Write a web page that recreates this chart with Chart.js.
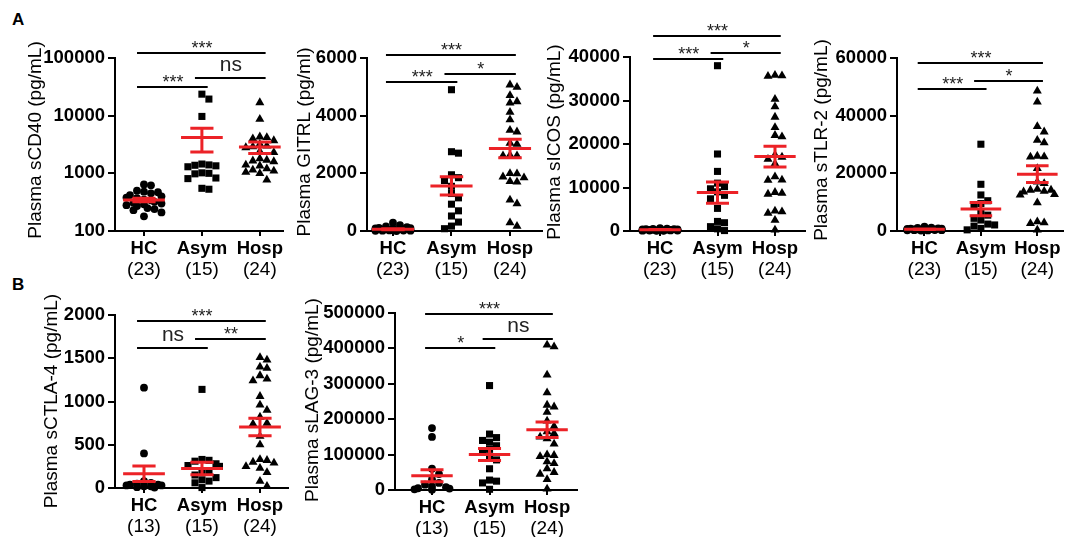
<!DOCTYPE html>
<html>
<head>
<meta charset="utf-8">
<script src="https://cdn.jsdelivr.net/npm/chart.js@4.4.1/dist/chart.umd.min.js"></script>
<style>
html,body{margin:0;padding:0;background:#fff;}
body{width:1068px;height:537px;position:relative;overflow:hidden;font-family:"Liberation Sans",Arial,sans-serif;}
canvas{position:absolute;}
.tag{position:absolute;font-weight:bold;font-size:17px;line-height:17px;color:#000;}
</style>
</head>
<body>
<div class="tag" style="left:12px;top:11px">A</div>
<div class="tag" style="left:12px;top:276px">B</div>
<script>
// ---- data ----
const groups = ['HC', 'Asym', 'Hosp'];
const countsA = [23, 15, 24];
const countsB = [13, 15, 24];

// sCD40 (log axis)
const cd40HC   = [640, 620, 500, 480, 470, 450, 420, 400, 380, 370, 350, 340, 320, 310, 300, 290, 280, 270, 250, 240, 230, 210, 180];
const cd40Asym = [23600, 19400, 9700, 1450, 1400, 1380, 1350, 1300, 1020, 1000, 980, 830, 810, 550, 530];
const cd40Hosp = [16900, 8700, 4300, 4200, 4000, 3700, 3200, 3000, 2900, 2800, 2400, 2300, 1800, 1700, 1650, 1600, 1400, 1350, 1200, 1150, 1100, 1050, 1000, 770];
const cd40Mean = [345, 4200, 2850];
const cd40Sem  = [25, 1850, 650];
const cd40Sig  = ['***', 'ns', '***'];
const cd40Ticks = [100, 1000, 10000, 100000];

// GITRL
const gitrlHC   = [290, 200, 160, 130, 110, 100, 90, 80, 70, 60, 55, 50, 45, 40, 35, 30, 25, 20, 15, 10, 10, 5, 0];
const gitrlAsym = [4900, 2750, 2700, 1950, 1850, 1750, 1550, 1300, 1150, 930, 700, 520, 310, 170, 80];
const gitrlHosp = [5070, 4990, 4700, 4490, 4440, 4120, 3860, 3500, 3440, 3050, 3010, 2630, 2610, 2610, 2000, 1990, 1880, 1850, 1720, 1700, 1080, 950, 290, 170];
const gitrlMean = [60, 1565, 2860];
const gitrlSem  = [15, 320, 320];
const gitrlSig  = ['***', '*', '***'];
const gitrlTicks = [0, 2000, 4000, 6000];

// sICOS
const icosHC   = [650, 550, 500, 450, 400, 380, 350, 320, 300, 280, 260, 240, 220, 200, 180, 160, 150, 130, 110, 100, 80, 60, 40];
const icosAsym = [38000, 17700, 13700, 11000, 10200, 9700, 9000, 8200, 7400, 5200, 2200, 1900, 1000, 500, 100];
const icosHosp = [35800, 35700, 35600, 30300, 28600, 26200, 23800, 22000, 21700, 17500, 17000, 16500, 15500, 12500, 11750, 11700, 8900, 8700, 8500, 4600, 4450, 4100, 2500, 250];
const icosMean = [300, 8830, 17100];
const icosSem  = [35, 2450, 2400];
const icosSig  = ['***', '*', '***'];
const icosTicks = [0, 10000, 20000, 30000, 40000];

// sTLR-2
const tlrHC   = [1500, 1200, 1100, 900, 850, 800, 750, 700, 650, 600, 580, 550, 500, 480, 450, 420, 400, 350, 300, 280, 250, 200, 150];
const tlrAsym = [30100, 16200, 12500, 10500, 9500, 8500, 6500, 5500, 4400, 3800, 2400, 2100, 1700, 900, 400];
const tlrHosp = [48600, 44800, 36300, 34400, 31500, 30600, 26000, 25800, 25700, 21700, 17000, 16500, 14500, 14200, 14200, 13800, 13600, 12700, 12500, 9800, 3200, 2900, 2650, 350];
const tlrMean = [600, 7600, 19700];
const tlrSem  = [70, 2300, 2900];
const tlrSig  = ['***', '*', '***'];
const tlrTicks = [0, 20000, 40000, 60000];

// sCTLA-4
const ctlaHC   = [1160, 400, 80, 60, 50, 40, 40, 30, 30, 20, 20, 10, 5];
const ctlaAsym = [1140, 330, 320, 310, 280, 260, 250, 200, 180, 150, 120, 95, 80, 60, 5];
const ctlaHosp = [1510, 1480, 1400, 1385, 1300, 1260, 1240, 1060, 960, 900, 820, 750, 740, 600, 500, 330, 320, 300, 290, 250, 230, 180, 80, 20];
const ctlaMean = [165, 225, 705];
const ctlaSem  = [90, 72, 100];
const ctlaSig  = ['ns', '**', '***'];
const ctlaTicks = [0, 500, 1000, 1500, 2000];

// sLAG-3
const lagHC   = [175000, 150000, 60000, 45000, 30000, 20000, 15000, 10000, 8000, 5000, 4000, 2000, 1000];
const lagAsym = [295000, 158000, 148000, 140000, 135000, 125000, 115000, 110000, 95000, 85000, 60000, 28000, 25000, 20000, 2000];
const lagHosp = [410000, 405000, 325000, 275000, 240000, 235000, 220000, 195000, 180000, 165000, 160000, 150000, 145000, 130000, 100000, 98000, 95000, 80000, 75000, 60000, 50000, 45000, 30000, 3000];
const lagMean = [40000, 100000, 170000];
const lagSem  = [17000, 17000, 22000];
const lagSig  = ['*', 'ns', '***'];
const lagTicks = [0, 100000, 200000, 300000, 400000, 500000];

// ---- layout of the six panels (page pixels) ----
const panels = [
  {title: 'Plasma sCD40 (pg/mL)', sets: [cd40HC, cd40Asym, cd40Hosp], mean: cd40Mean, sem: cd40Sem, sig: cd40Sig, ticks: cd40Ticks, counts: countsA, log: true,
   c: {x: 10, y: 25, w: 285, h: 258}, a: {l: 115, t: 58, r: 283, b: 231}, xr: [0.5, 3.4], tx: 36, ty: 140, lv: [29, 20, -5]},
  {title: 'Plasma GITRL (pg/ml)', sets: [gitrlHC, gitrlAsym, gitrlHosp], mean: gitrlMean, sem: gitrlSem, sig: gitrlSig, ticks: gitrlTicks, counts: countsA,
   c: {x: 290, y: 25, w: 258, h: 258}, a: {l: 367, t: 58, r: 542, b: 231}, xr: [0.556, 3.547], tx: 305, ty: 142, lv: [24, 16, -3]},
  {title: 'Plasma sICOS (pg/mL)', sets: [icosHC, icosAsym, icosHosp], mean: icosMean, sem: icosSem, sig: icosSig, ticks: icosTicks, counts: countsA,
   c: {x: 540, y: 8, w: 275, h: 275}, a: {l: 630, t: 57, r: 805, b: 231}, xr: [0.478, 3.522], tx: 555, ty: 142, lv: [2, -4, -21]},
  {title: 'Plasma sTLR-2 (pg/mL)', sets: [tlrHC, tlrAsym, tlrHosp], mean: tlrMean, sem: tlrSem, sig: tlrSig, ticks: tlrTicks, counts: countsA,
   c: {x: 805, y: 25, w: 263, h: 258}, a: {l: 897, t: 58, r: 1066, b: 231}, xr: [0.513, 3.452], tx: 822, ty: 140, lv: [31, 23, 5]},
  {title: 'Plasma sCTLA-4 (pg/mL)', sets: [ctlaHC, ctlaAsym, ctlaHosp], mean: ctlaMean, sem: ctlaSem, sig: ctlaSig, ticks: ctlaTicks, counts: countsB,
   c: {x: 10, y: 283, w: 285, h: 254}, a: {l: 115, t: 315, r: 288, b: 488}, xr: [0.5, 3.483], tx: 52, ty: 401, lv: [33, 24, 6]},
  {title: 'Plasma sLAG-3 (pg/mL)', sets: [lagHC, lagAsym, lagHosp], mean: lagMean, sem: lagSem, sig: lagSig, ticks: lagTicks, counts: countsB,
   c: {x: 290, y: 283, w: 295, h: 254}, a: {l: 395, t: 313, r: 577, b: 490}, xr: [0.357, 3.52], tx: 313, ty: 400, lv: [35, 26, 1]}
];

const FONT = '"Liberation Sans", Arial, sans-serif';
const RED = '#ec2227';
const shapes = ['circle', 'rect', 'triangle'];
const radii = [3.9, 5, 5.2];
const pairs = [[0, 1], [1, 2], [0, 2]];

// beeswarm: points side by side; a crowded row gets squeezed (overlap) inside maxW
function swarm(vals, frac, hPx, unitPx) {
  const D = 7, dx = 7;
  const maxW = 0.34 * unitPx;
  const placed = [];
  const offs = new Array(vals.length).fill(0);
  const order = vals.map((v, i) => i).sort((a, b) => vals[b] - vals[a]);
  order.forEach(i => {
    const y = frac(vals[i]) * hPx;
    let best = 0, bestHits = Infinity;
    for (let k = 0; ; k++) {
      const c = (k % 2 ? 1 : -1) * Math.ceil(k / 2) * dx / 2;
      if (Math.abs(c) > maxW) break;
      const hits = placed.filter(p => Math.abs(p.y - y) < D && Math.abs(p.x - c) < dx - 0.01)
        .reduce((s, p) => s + (dx - Math.abs(p.x - c)), 0);
      if (hits < bestHits - 0.01) { bestHits = hits; best = c; }
      if (hits === 0) break;
    }
    placed.push({x: best, y});
    offs[i] = best / unitPx;
  });
  return offs;
}

const deco = {
  id: 'deco',
  afterDatasetsDraw(chart, args, o) {
    const {ctx, chartArea: ca} = chart;
    const xs = chart.scales.x, ys = chart.scales.y;
    ctx.save();
    // mean +/- SEM
    ctx.strokeStyle = RED; ctx.lineWidth = 3; ctx.lineCap = 'butt';
    o.mean.forEach((m, i) => {
      const cx = xs.getPixelForValue(i + 1);
      const my = ys.getPixelForValue(m);
      const hi = ys.getPixelForValue(m + o.sem[i]);
      const lo = ys.getPixelForValue(m - o.sem[i]);
      const w1 = xs.getPixelForValue(i + 1.36) - cx;
      const w2 = xs.getPixelForValue(i + 1.2) - cx;
      ctx.beginPath();
      ctx.moveTo(cx - w1, my); ctx.lineTo(cx + w1, my);
      ctx.moveTo(cx - w2, hi); ctx.lineTo(cx + w2, hi);
      ctx.moveTo(cx - w2, lo); ctx.lineTo(cx + w2, lo);
      ctx.moveTo(cx, hi); ctx.lineTo(cx, lo);
      ctx.stroke();
    });
    // significance brackets
    ctx.strokeStyle = '#000'; ctx.fillStyle = '#222'; ctx.lineWidth = 2; ctx.textAlign = 'center';
    pairs.forEach(([i, j], k) => {
      const y = ca.top + o.lv[k];
      const x1 = xs.getPixelForValue(i + 1 - 0.12);
      const x2 = xs.getPixelForValue(j + 1 + 0.1);
      ctx.beginPath(); ctx.moveTo(x1, y); ctx.lineTo(x2, y); ctx.stroke();
      const mid = (xs.getPixelForValue(i + 1) + xs.getPixelForValue(j + 1)) / 2;
      ctx.textBaseline = 'alphabetic';
      if (o.sig[k] === 'ns') {
        ctx.font = '21px ' + FONT; ctx.fillText('ns', mid, y - 7);
      } else {
        ctx.font = '18px ' + FONT; ctx.fillText(o.sig[k], mid, y + 1);
      }
    });
    // group sizes under the category names
    ctx.fillStyle = '#000'; ctx.font = '19px ' + FONT; ctx.textBaseline = 'middle';
    o.counts.forEach((n, i) => ctx.fillText('(' + n + ')', xs.getPixelForValue(i + 1), ca.bottom + 39));
    // y axis title
    ctx.translate(o.tx, o.ty); ctx.rotate(-Math.PI / 2);
    ctx.font = '19px ' + FONT; ctx.fillText(o.title, 0, 0);
    ctx.restore();
  }
};

panels.forEach(p => {
  const cv = document.createElement('canvas');
  cv.width = p.c.w; cv.height = p.c.h;
  cv.style.left = p.c.x + 'px'; cv.style.top = p.c.y + 'px';
  cv.style.width = p.c.w + 'px'; cv.style.height = p.c.h + 'px';
  document.body.appendChild(cv);

  const yMin = p.ticks[0], yMax = p.ticks[p.ticks.length - 1];
  const frac = p.log
    ? v => (Math.log10(v) - Math.log10(yMin)) / (Math.log10(yMax) - Math.log10(yMin))
    : v => (v - yMin) / (yMax - yMin);
  const hPx = p.a.b - p.a.t;
  const unitPx = (p.a.r - p.a.l) / (p.xr[1] - p.xr[0]);

  const datasets = p.sets.map((vals, g) => {
    const offs = swarm(vals, frac, hPx, unitPx);
    return {
      label: groups[g],
      data: vals.map((v, k) => ({x: g + 1 + offs[k], y: v})),
      pointStyle: shapes[g], pointRadius: radii[g],
      backgroundColor: '#000', borderColor: '#000', borderWidth: 0,
      clip: false
    };
  });

  new Chart(cv, {
    type: 'scatter',
    data: {datasets},
    plugins: [deco],
    options: {
      responsive: false, animation: false, devicePixelRatio: 1,
      layout: {padding: {left: 0, top: p.a.t - p.c.y, right: p.c.x + p.c.w - p.a.r, bottom: 0}},
      plugins: {
        legend: {display: false}, tooltip: {enabled: false},
        deco: {mean: p.mean, sem: p.sem, sig: p.sig, lv: p.lv, counts: p.counts,
               title: p.title, tx: p.tx - p.c.x, ty: p.ty - p.c.y}
      },
      scales: {
        x: {
          type: 'linear', min: p.xr[0], max: p.xr[1],
          afterBuildTicks: s => { s.ticks = [1, 2, 3].map(v => ({value: v})); },
          afterFit: s => { s.height = p.c.y + p.c.h - p.a.b; },
          border: {color: '#000', width: 2},
          grid: {drawOnChartArea: false, color: '#000', lineWidth: 2, tickLength: 5},
          ticks: {color: '#000', autoSkip: false, maxRotation: 0, padding: 3,
                  font: {family: FONT, size: 18.5, weight: 'bold', lineHeight: 1.1},
                  callback: v => groups[Math.round(v) - 1]}
        },
        y: {
          type: p.log ? 'logarithmic' : 'linear', min: yMin, max: yMax,
          afterBuildTicks: s => { s.ticks = p.ticks.map(v => ({value: v})); },
          afterFit: s => { s.width = p.a.l - p.c.x; },
          border: {color: '#000', width: 2},
          grid: {drawOnChartArea: false, color: '#000', lineWidth: 2, tickLength: 7},
          ticks: {color: '#000', padding: 3, autoSkip: false,
                  font: {family: FONT, size: 18.5, weight: 'bold'},
                  callback: v => String(v)}
        }
      }
    }
  });
});
</script>
</body>
</html>
